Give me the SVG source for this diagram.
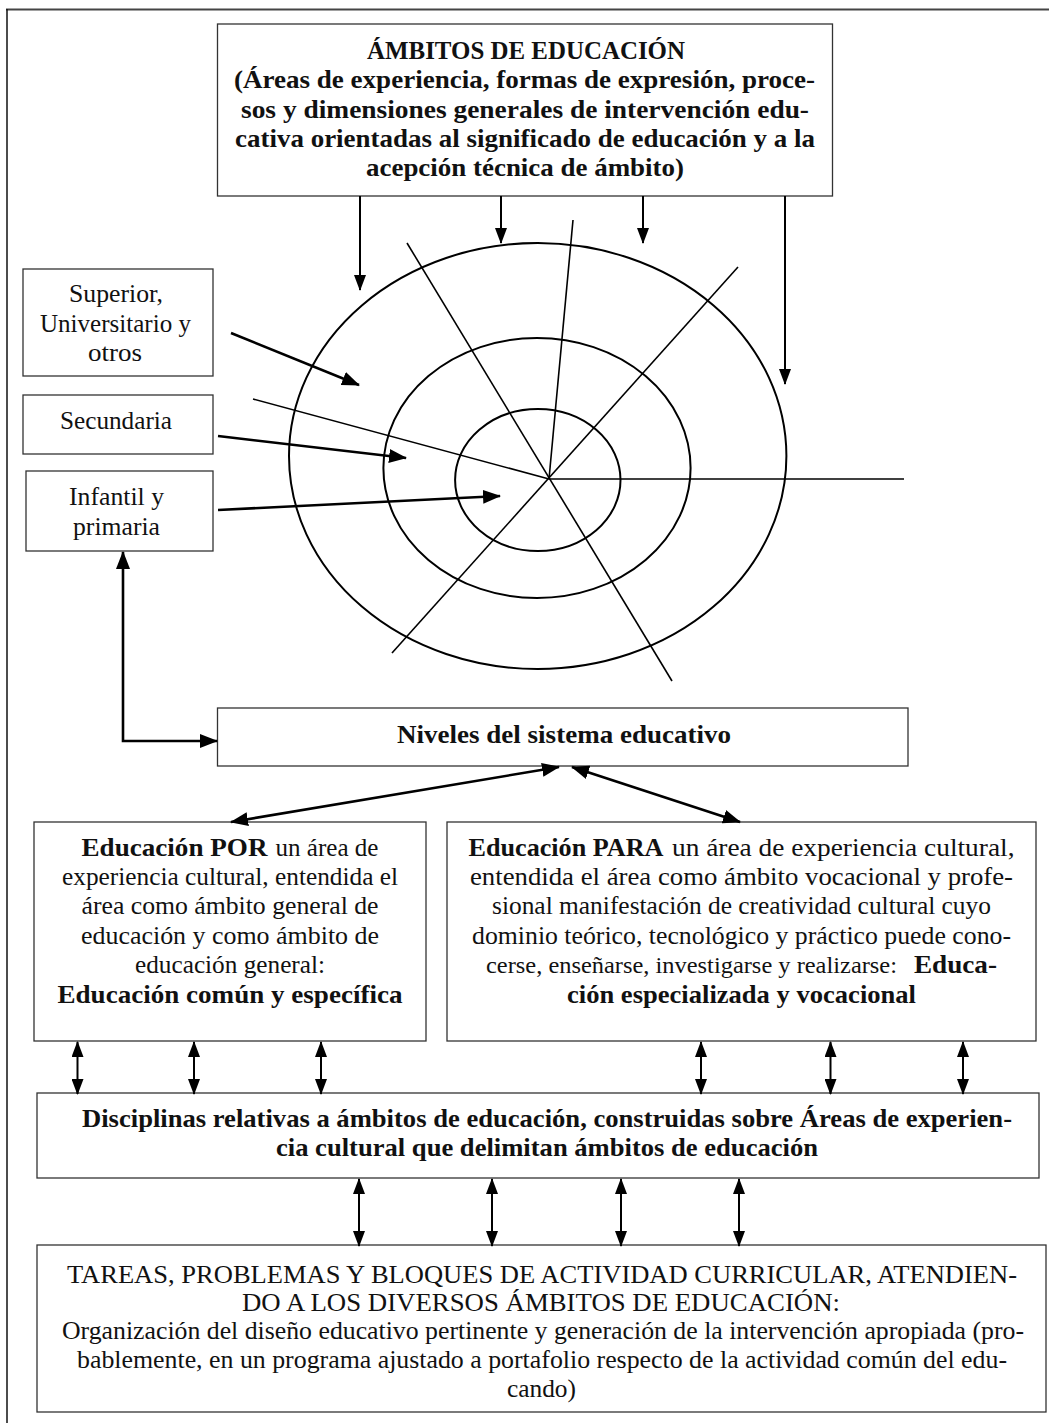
<svg xmlns="http://www.w3.org/2000/svg" width="1049" height="1423" viewBox="0 0 1049 1423">
<defs>
<style>
.box{fill:#fff;stroke:#333;stroke-width:1.3}
.t{font-family:"Liberation Serif","Times New Roman",serif;font-size:26px;fill:#111}
.b{font-weight:bold}
.ar{fill:none;stroke:#000;stroke-width:2.6}
.ar2{fill:none;stroke:#000;stroke-width:2}
.ring{fill:none;stroke:#000;stroke-width:2}
.spoke{fill:none;stroke:#000;stroke-width:1.6}
</style>
<marker id="ah" viewBox="0 0 16 12" refX="15" refY="6" markerWidth="16" markerHeight="12" markerUnits="userSpaceOnUse" orient="auto-start-reverse"><path d="M0,0 L16,6 L0,12 z" fill="#000"/></marker>
<marker id="ahL" viewBox="0 0 18 14" refX="17" refY="7" markerWidth="18" markerHeight="14" markerUnits="userSpaceOnUse" orient="auto-start-reverse"><path d="M0,0 L18,7 L0,14 z" fill="#000"/></marker>
</defs>
<rect width="1049" height="1423" fill="#fff"/>
<g id="frame">
<line x1="6" y1="9.5" x2="1049" y2="9.5" stroke="#444" stroke-width="2"/>
<line x1="7" y1="9" x2="7" y2="1423" stroke="#111" stroke-width="1.5"/>
</g>
<g id="target">
<ellipse class="ring" cx="537.7" cy="456" rx="248.7" ry="213"/>
<ellipse class="ring" cx="537" cy="468" rx="153.6" ry="130"/>
<ellipse class="ring" cx="537.8" cy="480" rx="82.7" ry="71"/>
<line class="spoke" x1="407" y1="243" x2="672" y2="681"/>
<line class="spoke" x1="573" y1="220" x2="549" y2="479"/>
<line class="spoke" x1="738" y1="267" x2="392" y2="653"/>
<line class="spoke" x1="253" y1="399" x2="549" y2="479"/>
<line class="spoke" x1="549" y1="479" x2="904" y2="479" stroke-width="2"/>
</g>
<g id="ambitos">
<rect class="box" x="217.5" y="24" width="615" height="172"/>
<text class="t b" x="367" y="59" textLength="318" lengthAdjust="spacingAndGlyphs">ÁMBITOS DE EDUCACIÓN</text>
<text class="t b" x="234" y="88" textLength="581" lengthAdjust="spacingAndGlyphs">(Áreas de experiencia, formas de expresión, proce-</text>
<text class="t b" x="241" y="117.5" textLength="568" lengthAdjust="spacingAndGlyphs">sos y dimensiones generales de intervención edu-</text>
<text class="t b" x="235" y="147" textLength="580" lengthAdjust="spacingAndGlyphs">cativa orientadas al significado de educación y a la</text>
<text class="t b" x="366" y="176" textLength="318" lengthAdjust="spacingAndGlyphs">acepción técnica de ámbito)</text>
</g>
<g id="superior">
<rect class="box" x="23" y="269" width="190" height="107"/>
<text class="t" x="69" y="302" textLength="94" lengthAdjust="spacingAndGlyphs">Superior,</text>
<text class="t" x="40" y="332" textLength="151" lengthAdjust="spacingAndGlyphs">Universitario y</text>
<text class="t" x="88" y="361" textLength="54" lengthAdjust="spacingAndGlyphs">otros</text>
</g>
<g id="secundaria">
<rect class="box" x="23" y="395" width="190" height="59"/>
<text class="t" x="60" y="429" textLength="112" lengthAdjust="spacingAndGlyphs">Secundaria</text>
</g>
<g id="infantil">
<rect class="box" x="26" y="471" width="187" height="80"/>
<text class="t" x="69" y="505" textLength="95" lengthAdjust="spacingAndGlyphs">Infantil y</text>
<text class="t" x="73" y="535" textLength="87" lengthAdjust="spacingAndGlyphs">primaria</text>
</g>
<g id="niveles">
<rect class="box" x="217.5" y="708" width="690.5" height="58"/>
<text class="t b" x="397" y="743" textLength="334" lengthAdjust="spacingAndGlyphs">Niveles del sistema educativo</text>
</g>
<g id="por">
<rect class="box" x="34" y="822" width="392" height="219"/>
<text class="t b" x="81.5" y="856" textLength="186" lengthAdjust="spacingAndGlyphs">Educación POR</text>
<text class="t" x="275.5" y="856" textLength="103" lengthAdjust="spacingAndGlyphs">un área de</text>
<text class="t" x="62" y="885" textLength="336" lengthAdjust="spacingAndGlyphs">experiencia cultural, entendida el</text>
<text class="t" x="81.5" y="914" textLength="297" lengthAdjust="spacingAndGlyphs">área como ámbito general de</text>
<text class="t" x="81" y="944" textLength="298" lengthAdjust="spacingAndGlyphs">educación y como ámbito de</text>
<text class="t" x="135" y="973" textLength="190" lengthAdjust="spacingAndGlyphs">educación general:</text>
<text class="t b" x="57.5" y="1003" textLength="345" lengthAdjust="spacingAndGlyphs">Educación común y específica</text>
</g>
<g id="para">
<rect class="box" x="447" y="822" width="589" height="219"/>
<text class="t b" x="468.5" y="856" textLength="195" lengthAdjust="spacingAndGlyphs">Educación PARA</text>
<text class="t" x="672" y="856" textLength="342.5" lengthAdjust="spacingAndGlyphs">un área de experiencia cultural,</text>
<text class="t" x="470" y="885" textLength="543" lengthAdjust="spacingAndGlyphs">entendida el área como ámbito vocacional y profe-</text>
<text class="t" x="492" y="914" textLength="499" lengthAdjust="spacingAndGlyphs">sional manifestación de creatividad cultural cuyo</text>
<text class="t" x="472" y="944" textLength="539" lengthAdjust="spacingAndGlyphs">dominio teórico, tecnológico y práctico puede cono-</text>
<text class="t" x="486" y="973" font-size="24" style="font-size:24px" textLength="411" lengthAdjust="spacingAndGlyphs">cerse, enseñarse, investigarse y realizarse:</text>
<text class="t b" x="914" y="973" textLength="83" lengthAdjust="spacingAndGlyphs">Educa-</text>
<text class="t b" x="567" y="1003" textLength="349" lengthAdjust="spacingAndGlyphs">ción especializada y vocacional</text>
</g>
<g id="disciplinas">
<rect class="box" x="37" y="1093" width="1002" height="85"/>
<text class="t b" x="82" y="1127" textLength="930" lengthAdjust="spacingAndGlyphs">Disciplinas relativas a ámbitos de educación, construidas sobre Áreas de experien-</text>
<text class="t b" x="276" y="1156" textLength="542" lengthAdjust="spacingAndGlyphs">cia cultural que delimitan ámbitos de educación</text>
</g>
<g id="tareas">
<rect class="box" x="37" y="1245" width="1009" height="167"/>
<text class="t" x="67" y="1283" textLength="950" lengthAdjust="spacingAndGlyphs">TAREAS, PROBLEMAS Y BLOQUES DE ACTIVIDAD CURRICULAR, ATENDIEN-</text>
<text class="t" x="242" y="1311" textLength="598" lengthAdjust="spacingAndGlyphs">DO A LOS DIVERSOS ÁMBITOS DE EDUCACIÓN:</text>
<text class="t" x="62" y="1339" textLength="962" lengthAdjust="spacingAndGlyphs">Organización del diseño educativo pertinente y generación de la intervención apropiada (pro-</text>
<text class="t" x="77" y="1368" textLength="930" lengthAdjust="spacingAndGlyphs">bablemente, en un programa ajustado a portafolio respecto de la actividad común del edu-</text>
<text class="t" x="507" y="1397" textLength="69" lengthAdjust="spacingAndGlyphs">cando)</text>
</g>
<g id="connectors">
<line class="ar2" x1="360" y1="196" x2="360" y2="290" marker-end="url(#ah)"/>
<line class="ar2" x1="501" y1="196" x2="501" y2="243" marker-end="url(#ah)"/>
<line class="ar2" x1="643" y1="196" x2="643" y2="243" marker-end="url(#ah)"/>
<line class="ar2" x1="785" y1="196" x2="785" y2="384" marker-end="url(#ah)"/>
<line class="ar" x1="231" y1="333" x2="359" y2="385" marker-end="url(#ahL)"/>
<line class="ar" x1="218" y1="436" x2="406" y2="458" marker-end="url(#ahL)"/>
<line class="ar" x1="218" y1="510" x2="500" y2="496" marker-end="url(#ahL)"/>
<polyline class="ar" points="123,552 123,741 217,741" marker-start="url(#ahL)" marker-end="url(#ahL)"/>
<line class="ar" x1="559" y1="767" x2="231" y2="822" marker-start="url(#ahL)" marker-end="url(#ahL)"/>
<line class="ar" x1="572" y1="767" x2="740" y2="822" marker-start="url(#ahL)" marker-end="url(#ahL)"/>
<line class="ar2" x1="77.5" y1="1042" x2="77.5" y2="1094" marker-start="url(#ah)" marker-end="url(#ah)"/>
<line class="ar2" x1="194" y1="1042" x2="194" y2="1094" marker-start="url(#ah)" marker-end="url(#ah)"/>
<line class="ar2" x1="321" y1="1042" x2="321" y2="1094" marker-start="url(#ah)" marker-end="url(#ah)"/>
<line class="ar2" x1="701" y1="1042" x2="701" y2="1094" marker-start="url(#ah)" marker-end="url(#ah)"/>
<line class="ar2" x1="830.5" y1="1042" x2="830.5" y2="1094" marker-start="url(#ah)" marker-end="url(#ah)"/>
<line class="ar2" x1="963" y1="1042" x2="963" y2="1094" marker-start="url(#ah)" marker-end="url(#ah)"/>
<line class="ar2" x1="359" y1="1179" x2="359" y2="1246" marker-start="url(#ah)" marker-end="url(#ah)"/>
<line class="ar2" x1="492" y1="1179" x2="492" y2="1246" marker-start="url(#ah)" marker-end="url(#ah)"/>
<line class="ar2" x1="621" y1="1179" x2="621" y2="1246" marker-start="url(#ah)" marker-end="url(#ah)"/>
<line class="ar2" x1="739" y1="1179" x2="739" y2="1246" marker-start="url(#ah)" marker-end="url(#ah)"/>
</g>
</svg>
